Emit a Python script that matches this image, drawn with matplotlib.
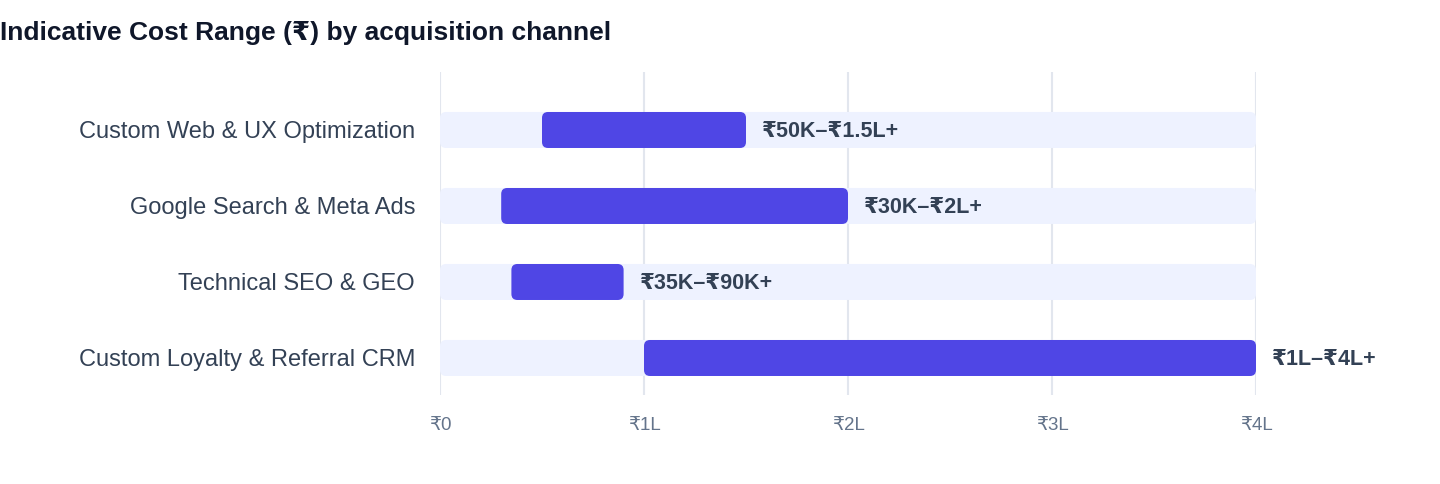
import matplotlib

matplotlib.use("Agg")
import matplotlib.pyplot as plt
from matplotlib.patches import FancyBboxPatch

# values in lakh (1L = 100K)
channels = [
    "Custom Web & UX Optimization",
    "Google Search & Meta Ads",
    "Technical SEO & GEO",
    "Custom Loyalty & Referral CRM",
]
low = [0.5, 0.3, 0.35, 1.0]
high = [1.5, 2.0, 0.9, 4.0]
range_labels = ["₹50K–₹1.5L+", "₹30K–₹2L+", "₹35K–₹90K+", "₹1L–₹4L+"]
axis_max = 4.0
tick_vals = [0, 1, 2, 3, 4]
tick_labels = ["₹0", "₹1L", "₹2L", "₹3L", "₹4L"]

FONT = ["Liberation Sans", "DejaVu Sans"]
plt.rcParams["font.family"] = FONT

BAR = "#4F46E5"
TRACK = "#EEF2FF"
GRID = "#E2E6EE"

fig = plt.figure(figsize=(14.4, 4.84), dpi=100)
ax = fig.add_axes([440 / 1440, 89 / 484, 816 / 1440, 323 / 484])
ax.set_xlim(0, axis_max)
ax.set_ylim(3.487, -0.763)

# px per unit: x 204, y 76
aspect = 204 / 76
h = 36 / 76
r = 6 / 204

for x in tick_vals:
    ax.axvline(x, color=GRID, lw=1.5, zorder=0)

for i, (lo, hi, lab) in enumerate(zip(low, high, range_labels)):
    track = FancyBboxPatch((0, i - h / 2), axis_max, h,
                           boxstyle=f"round,pad=0,rounding_size={r}",
                           mutation_aspect=aspect, fc=TRACK, ec="none", zorder=1)
    ax.add_patch(track)
    bar = FancyBboxPatch((lo, i - h / 2), hi - lo, h,
                         boxstyle=f"round,pad=0,rounding_size={r}",
                         mutation_aspect=aspect, fc=BAR, ec="none", zorder=2)
    ax.add_patch(bar)
    ax.text(hi + 16 / 204, i + 2 / 76, lab, ha="left", va="center", fontsize=15.5,
            fontweight="bold", color="#334155", clip_on=False)

ax.set_yticks(range(len(channels)))
ax.set_yticklabels(channels, fontsize=17, color="#334155")
ax.set_xticks(tick_vals)
ax.set_xticklabels(tick_labels, fontsize=13.5, color="#64748B")
ax.tick_params(length=0)
ax.tick_params(axis="y", pad=18)
ax.tick_params(axis="x", pad=16)
for s in ax.spines.values():
    s.set_visible(False)

fig.text(0, 1 - 33 / 484, "Indicative Cost Range (₹) by acquisition channel",
         ha="left", va="center", fontsize=19, fontweight="bold", color="#0F172A")

fig.savefig("out.png", dpi=100, facecolor="white")
